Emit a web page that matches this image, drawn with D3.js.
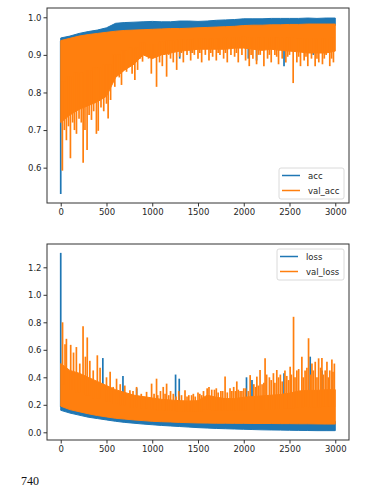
<!DOCTYPE html>
<html>
<head>
<meta charset="utf-8">
<script src="https://cdn.jsdelivr.net/npm/d3@7"></script>
<style>
  body { margin: 0; background: #fff; }
  text { font-family: "DejaVu Sans", sans-serif; }
</style>
</head>
<body>
<svg width="389" height="495"></svg>
<script>
const epochs = d3.range(0, 3001, 100);
const xTicks = [0, 500, 1000, 1500, 2000, 2500, 3000];

// accuracy panel: dense band edges
const accHi = [0.945,0.950,0.957,0.962,0.966,0.972,0.984,0.986,0.987,0.988,0.989,0.988,0.988,0.990,0.990,0.989,0.990,0.992,0.993,0.994,0.996,0.996,0.996,0.997,0.997,0.997,0.997,0.998,0.997,0.998,0.998];
const accLo = [0.930,0.935,0.940,0.945,0.950,0.955,0.960,0.962,0.963,0.965,0.965,0.966,0.966,0.967,0.968,0.968,0.969,0.970,0.971,0.972,0.974,0.975,0.975,0.976,0.976,0.977,0.977,0.978,0.978,0.978,0.978];
const valAccHi = [0.938,0.944,0.950,0.954,0.957,0.960,0.963,0.965,0.966,0.967,0.968,0.969,0.970,0.970,0.971,0.972,0.973,0.974,0.975,0.976,0.978,0.979,0.979,0.980,0.980,0.981,0.981,0.982,0.982,0.982,0.982];
const valAccLo = [0.720,0.740,0.755,0.765,0.775,0.790,0.840,0.860,0.875,0.900,0.890,0.900,0.905,0.910,0.912,0.915,0.915,0.915,0.915,0.918,0.918,0.915,0.912,0.915,0.912,0.910,0.908,0.905,0.905,0.905,0.910];
// single epochs that stick out of the band: [epoch, value]
const accSpikes = [[0,0.53],[1300,0.89],[1420,0.905],[2050,0.89],[2140,0.885],[2440,0.87],[2760,0.90]];
const valAccSpikes = [[18,0.592],[40,0.70],[62,0.673],[85,0.71],[106,0.625],[130,0.72],[150,0.70],[172,0.69],[200,0.73],[225,0.72],[245,0.613],[265,0.70],[288,0.647],[310,0.74],[336,0.727],[360,0.75],[390,0.69],[410,0.698],[440,0.76],[470,0.75],[500,0.77],[518,0.731],[545,0.78],[570,0.83],[591,0.815],[620,0.85],[640,0.84],[664,0.82],[690,0.86],[719,0.855],[750,0.87],[780,0.85],[810,0.833],[840,0.86],[870,0.89],[894,0.882],[920,0.90],[960,0.89],[990,0.85],[1020,0.895],[1047,0.815],[1080,0.88],[1110,0.87],[1135,0.90],[1157,0.842],[1180,0.90],[1200,0.89],[1230,0.88],[1267,0.86],[1300,0.895],[1320,0.905],[1340,0.88],[1380,0.90],[1420,0.885],[1440,0.905],[1460,0.90],[1500,0.89],[1520,0.905],[1540,0.88],[1580,0.90],[1620,0.885],[1640,0.905],[1660,0.895],[1700,0.885],[1720,0.905],[1740,0.90],[1780,0.89],[1800,0.905],[1820,0.88],[1860,0.90],[1900,0.895],[1920,0.905],[1940,0.88],[1980,0.90],[2020,0.885],[2060,0.87],[2080,0.90],[2100,0.89],[2140,0.875],[2160,0.90],[2180,0.90],[2220,0.87],[2260,0.89],[2280,0.90],[2300,0.88],[2340,0.90],[2360,0.895],[2380,0.875],[2420,0.89],[2460,0.88],[2480,0.895],[2500,0.90],[2540,0.825],[2580,0.88],[2600,0.895],[2620,0.87],[2660,0.885],[2680,0.895],[2700,0.87],[2740,0.89],[2780,0.87],[2800,0.89],[2820,0.88],[2860,0.875],[2880,0.89],[2900,0.90],[2940,0.87],[2960,0.89],[2980,0.88]];

// loss panel
const lossHi = [0.210,0.185,0.170,0.155,0.142,0.132,0.122,0.116,0.110,0.105,0.100,0.097,0.095,0.092,0.090,0.088,0.087,0.086,0.086,0.085,0.085,0.084,0.084,0.084,0.083,0.083,0.082,0.082,0.081,0.080,0.080];
const lossLo = [0.160,0.140,0.125,0.110,0.100,0.090,0.080,0.072,0.066,0.060,0.055,0.050,0.046,0.042,0.038,0.034,0.031,0.028,0.026,0.024,0.022,0.020,0.018,0.017,0.016,0.015,0.014,0.013,0.012,0.012,0.012];
const valLossHi = [0.500,0.450,0.430,0.400,0.370,0.340,0.310,0.290,0.270,0.260,0.250,0.240,0.235,0.230,0.228,0.230,0.270,0.255,0.245,0.245,0.255,0.260,0.265,0.270,0.275,0.285,0.300,0.305,0.305,0.310,0.310];
const valLossLo = [0.190,0.165,0.150,0.135,0.122,0.112,0.102,0.096,0.090,0.085,0.080,0.077,0.075,0.072,0.070,0.068,0.067,0.066,0.066,0.065,0.065,0.064,0.064,0.064,0.063,0.063,0.062,0.062,0.061,0.060,0.060];
const lossSpikes = [[0,1.305],[460,0.54],[680,0.41],[830,0.32],[1255,0.42],[1295,0.39],[2030,0.40],[2090,0.38],[2440,0.43],[2726,0.55],[2855,0.45],[2965,0.38]];
const valLossSpikes = [[20,0.80],[47,0.64],[62,0.68],[109,0.636],[140,0.58],[171,0.62],[208,0.50],[244,0.771],[270,0.55],[290,0.69],[318,0.52],[355,0.45],[400,0.56],[430,0.47],[500,0.40],[540,0.44],[573,0.33],[610,0.39],[650,0.35],[700,0.34],[756,0.306],[790,0.30],[829,0.33],[880,0.28],[938,0.294],[993,0.354],[1020,0.28],[1047,0.39],[1060,0.27],[1090,0.30],[1120,0.33],[1140,0.28],[1157,0.354],[1180,0.27],[1200,0.30],[1230,0.28],[1260,0.26],[1290,0.30],[1320,0.27],[1358,0.306],[1380,0.26],[1400,0.27],[1430,0.27],[1449,0.28],[1470,0.26],[1500,0.29],[1520,0.28],[1540,0.27],[1560,0.30],[1600,0.32],[1620,0.33],[1650,0.31],[1680,0.31],[1700,0.32],[1720,0.29],[1750,0.30],[1770,0.30],[1796,0.405],[1820,0.29],[1850,0.32],[1870,0.30],[1890,0.33],[1910,0.30],[1924,0.37],[1940,0.31],[1960,0.30],[1980,0.30],[2000,0.32],[2020,0.32],[2050,0.30],[2070,0.416],[2110,0.35],[2130,0.33],[2143,0.405],[2160,0.34],[2178,0.453],[2200,0.35],[2220,0.36],[2233,0.538],[2250,0.42],[2280,0.40],[2300,0.38],[2324,0.43],[2340,0.36],[2361,0.453],[2380,0.40],[2400,0.42],[2420,0.37],[2450,0.45],[2470,0.41],[2490,0.38],[2507,0.477],[2520,0.42],[2544,0.84],[2560,0.40],[2580,0.45],[2600,0.46],[2635,0.55],[2650,0.40],[2670,0.45],[2690,0.47],[2708,0.684],[2730,0.42],[2745,0.50],[2760,0.45],[2781,0.513],[2800,0.40],[2818,0.538],[2840,0.47],[2854,0.54],[2870,0.42],[2890,0.45],[2909,0.513],[2925,0.40],[2940,0.45],[2963,0.53],[2975,0.44],[2990,0.50]];

const accTicks = [0.6, 0.7, 0.8, 0.9, 1.0];
const lossTicks = [0.0, 0.2, 0.4, 0.6, 0.8, 1.0, 1.2];

const blue = "#1f77b4", orange = "#ff7f0e";
const svg = d3.select("svg");
const x = d3.scaleLinear().domain([-150, 3150]).range([47, 349]);

function drawPanel(p) {
    const y = d3.scaleLinear().domain(p.yDomain).range([p.bottom, p.top]);
    const g = svg.append("g");

    p.series.forEach(s => {
        const area = d3.area()
            .x((d, i) => x(epochs[i]))
            .y0((d, i) => y(s.lo[i]))
            .y1((d, i) => y(s.hi[i]));
        g.append("path").datum(s.lo).attr("d", area)
            .attr("fill", s.color).attr("stroke", s.color).attr("stroke-width", 1);

        g.selectAll(null).data(s.spikes).enter().append("line")
            .attr("x1", d => x(d[0])).attr("x2", d => x(d[0]))
            .attr("y1", d => y(d[1]))
            .attr("y2", d => {
                const i = Math.round(d[0] / 100);
                return y((s.lo[i] + s.hi[i]) / 2);
            })
            .attr("stroke", s.color).attr("stroke-width", 1.7);
    });

    g.append("rect")
        .attr("x", 47).attr("y", p.top).attr("width", 302).attr("height", p.bottom - p.top)
        .attr("fill", "none").attr("stroke", "#333").attr("stroke-width", 1);

    const xa = g.append("g").attr("transform", `translate(0,${p.bottom})`)
        .call(d3.axisBottom(x).tickValues(xTicks).tickSize(3.5).tickPadding(2).tickFormat(d3.format("d")));
    const ya = g.append("g").attr("transform", "translate(47,0)")
        .call(d3.axisLeft(y).tickValues(p.yTicks).tickSize(3.5).tickPadding(2).tickFormat(d3.format(".1f")));
    [xa, ya].forEach(a => {
        a.select(".domain").remove();
        a.selectAll("line").attr("stroke", "#333");
        a.selectAll("text").attr("fill", "#262626").style("font-size", "8.5px")
            .style("font-family", "'DejaVu Sans', sans-serif");
    });

    // legend
    const lg = g.append("g").attr("transform", `translate(${p.legend[0]},${p.legend[1]})`);
    lg.append("rect").attr("width", p.legend[2]).attr("height", 31).attr("rx", 2)
        .attr("fill", "#fff").attr("fill-opacity", 0.85).attr("stroke", "#d0d0d0").attr("stroke-width", 0.8);
    p.series.forEach((s, i) => {
        lg.append("line").attr("x1", 3).attr("x2", 21).attr("y1", 7.5 + i * 15).attr("y2", 7.5 + i * 15)
            .attr("stroke", s.color).attr("stroke-width", 1.5);
        lg.append("text").attr("x", 29).attr("y", 10.5 + i * 15)
            .attr("fill", "#262626").style("font-size", "8.5px").text(s.name);
    });
}

drawPanel({
    top: 8, bottom: 203, yDomain: [0.506, 1.0247], yTicks: accTicks,
    legend: [279, 168, 65],
    series: [
        { name: "acc", color: blue, hi: accHi, lo: accLo, spikes: accSpikes },
        { name: "val_acc", color: orange, hi: valAccHi, lo: valAccLo, spikes: valAccSpikes }
    ]
});

drawPanel({
    top: 244, bottom: 440, yDomain: [-0.056, 1.3695], yTicks: lossTicks,
    legend: [277, 249, 67],
    series: [
        { name: "loss", color: blue, hi: lossHi, lo: lossLo, spikes: lossSpikes },
        { name: "val_loss", color: orange, hi: valLossHi, lo: valLossLo, spikes: valLossSpikes }
    ]
});

svg.append("text").attr("x", 21).attr("y", 485)
    .style("font-family", "'Liberation Serif', serif").style("font-size", "12px")
    .attr("fill", "#111").text("740");
</script>
</body>
</html>
